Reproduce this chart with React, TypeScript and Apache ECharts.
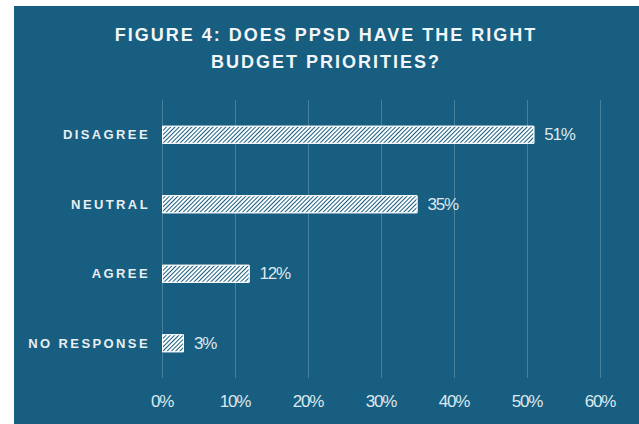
import React, { useEffect, useRef } from "react";
import * as echarts from "echarts";

const categories = ["NO RESPONSE", "AGREE", "NEUTRAL", "DISAGREE"];
const values = [3, 12, 35, 51];
const axisMin = 0;
const axisMax = 60;
const axisStep = 10;
const titleLines = ["FIGURE 4: DOES PPSD HAVE THE RIGHT", "BUDGET PRIORITIES?"];

const BG = "#175e80";
const NARROW = '"Liberation Sans", Arial, sans-serif';

export default function App() {
  const ref = useRef<HTMLDivElement>(null);
  useEffect(() => {
    const chart = echarts.init(ref.current!, null, { renderer: "svg" });
    chart.setOption({
      animation: false,
      backgroundColor: "#ffffff",
      graphic: [
        {
          type: "rect",
          shape: { x: 14, y: 6, width: 625, height: 418 },
          style: { fill: BG },
          z: -10,
          silent: true,
        },
        {
          type: "text",
          x: 326,
          y: 35,
          style: {
            text: titleLines[0],
            fill: "#f3f6f8",
            font: 'bold 18px "Liberation Sans", Arial, sans-serif',
            align: "center",
            verticalAlign: "middle",
          },
        },
        {
          type: "text",
          x: 326,
          y: 62,
          style: {
            text: titleLines[1],
            fill: "#f3f6f8",
            font: 'bold 18px "Liberation Sans", Arial, sans-serif',
            align: "center",
            verticalAlign: "middle",
          },
        },
      ],
      grid: { left: 162, right: 39, top: 100, bottom: 46 },
      xAxis: {
        type: "value",
        min: axisMin,
        max: axisMax,
        interval: axisStep,
        axisLine: { show: false },
        axisTick: { show: false },
        splitLine: { lineStyle: { color: "rgba(255,255,255,0.22)", width: 1 } },
        axisLabel: {
          formatter: "{value}%",
          color: "#dde8ee",
          fontSize: 17,
          fontFamily: NARROW,
          margin: 15,
        },
      },
      yAxis: {
        type: "category",
        data: categories,
        axisLine: { show: false },
        axisTick: { show: false },
        splitLine: { show: false },
        axisLabel: {
          color: "#e8eef2",
          fontSize: 13,
          fontWeight: "bold",
          fontFamily: '"Liberation Sans", Arial, sans-serif',
          margin: 12,
        },
      },
      series: [
        {
          type: "bar",
          data: values,
          barWidth: 18,
          itemStyle: {
            color: "#ffffff",
            borderColor: "#ffffff",
            borderWidth: 1,
            decal: {
              symbol: "rect",
              symbolSize: 1,
              color: BG,
              dashArrayX: [1, 0],
              dashArrayY: [1, 2],
              rotation: -Math.PI / 4,
            },
          },
          label: {
            show: true,
            position: "right",
            distance: 10,
            formatter: "{c}%",
            color: "#dde8ee",
            fontSize: 17,
            fontFamily: NARROW,
          },
        },
      ],
    });
    return () => chart.dispose();
  }, []);
  return (
    <>
      <style>{`
        #chartbox text[style*="13px"] { letter-spacing: 2.4px; }
        #chartbox text[style*="18px"] { letter-spacing: 2px; }
        #chartbox text[style*="17px"] { letter-spacing: -1.2px; }
      `}</style>
      <div
        id="chartbox"
        ref={ref}
        style={{ position: "fixed", left: 0, top: 0, width: 639, height: 424 }}
      />
    </>
  );
}
